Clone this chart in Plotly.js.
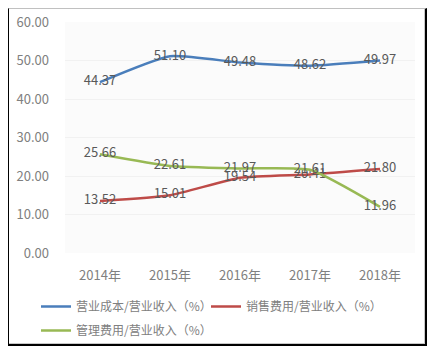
<!DOCTYPE html>
<html>
<head>
<meta charset="utf-8">
<script src="https://cdn.plot.ly/plotly-3.0.1.min.js"></script>
<style>
html,body{margin:0;padding:0;background:#fff;}
#wrap{position:relative;width:444px;height:353px;}
#chart{position:absolute;left:0;top:0;width:444px;height:353px;}
#frame{position:absolute;left:8px;top:8px;width:416px;height:335px;border-left:1px solid #000;border-top:1px solid #c0c0c0;border-right:2px solid #000;border-bottom:2px solid #000;box-shadow:inset -1px -1px 0 #c8c8c8;pointer-events:none;}
</style>
</head>
<body>
<div id="wrap"><div id="chart"></div><div id="frame"></div></div>
<script>
const categories = ['2014年','2015年','2016年','2017年','2018年'];
const costRatio = [44.37, 51.10, 49.48, 48.62, 49.97];
const salesRatio = [13.52, 15.01, 19.54, 20.41, 21.80];
const adminRatio = [25.66, 22.61, 21.97, 21.61, 11.96];
const seriesNames = ['营业成本/营业收入（%）','销售费用/营业收入（%）','管理费用/营业收入（%）'];
const yTicks = [0,10,20,30,40,50,60];

const font = 'Noto Sans CJK SC, Noto Sans, sans-serif';
function mk(y, name, color, legend, group){
  return {
    x: categories, y: y, name: name, type: 'scatter', mode: 'lines+text',
    text: y.map(v => v.toFixed(2)), textposition: 'middle center',
    textfont: {family: font, size: 13, color: '#595959'},
    line: {color: color, width: 2.5, shape: 'spline', smoothing: 0.5},
    legend: legend, legendgroup: group,
    hoverinfo: 'skip'
  };
}
const data = [
  mk(costRatio, seriesNames[0], '#4A7EBB', 'legend', 'a'),
  mk(salesRatio, seriesNames[1], '#BE4B48', 'legend2', 'b'),
  mk(adminRatio, seriesNames[2], '#98B954', 'legend', 'c')
];
const legendBase = {
  orientation: 'v', xref: 'container', yref: 'container',
  y: 1 - 292/353, xanchor: 'left', yanchor: 'top',
  itemwidth: 30, tracegroupgap: 5,
  font: {family: font, size: 12, color: '#808080'},
  bgcolor: 'rgba(0,0,0,0)'
};
const layout = {
  width: 444, height: 353,
  margin: {l: 65, r: 29, t: 22, b: 100, autoexpand: false},
  paper_bgcolor: 'rgba(0,0,0,0)',
  plot_bgcolor: '#fbfbfb',
  font: {family: font, size: 12, color: '#808080'},
  showlegend: true,
  xaxis: {
    type: 'category', range: [-0.5, 4.5], showgrid: false, zeroline: false,
    showline: false, ticks: '', ticklabelstandoff: 13, automargin: false,
    tickfont: {family: font, size: 13, color: '#808080'}
  },
  yaxis: {
    range: [0, 60], tickvals: yTicks, ticktext: yTicks.map(v => v.toFixed(2)),
    showgrid: true, gridcolor: '#f1f1f1', zeroline: false, showline: false,
    ticks: '', ticklabelstandoff: 15, automargin: false,
    tickfont: {family: font, size: 13, color: '#808080'}
  },
  legend: Object.assign({}, legendBase, {x: 36/444}),
  legend2: Object.assign({}, legendBase, {x: 206/444})
};
Plotly.newPlot('chart', data, layout, {displayModeBar: false, staticPlot: true});
</script>
</body>
</html>
